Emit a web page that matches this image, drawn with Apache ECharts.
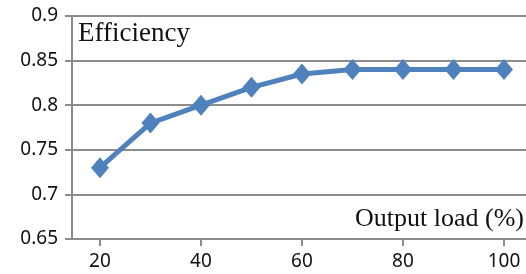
<!DOCTYPE html>
<html>
<head>
<meta charset="utf-8">
<script src="https://cdn.jsdelivr.net/npm/echarts@6/dist/echarts.min.js"></script>
<style>
  html, body { margin: 0; padding: 0; background: #fff; }
  #chart { width: 526px; height: 274px; }
</style>
</head>
<body>
<div id="chart"></div>
<script>
// output load (%) and measured efficiency
var loads = [20, 30, 40, 50, 60, 70, 80, 90, 100];
var efficiency = [0.73, 0.78, 0.80, 0.82, 0.835, 0.84, 0.84, 0.84, 0.84];
var xTicks = [20, 40, 60, 80, 100];

var chart = echarts.init(document.getElementById("chart"));

var gridColor = "#8c8c8c";
var labelFont = "'Noto Sans', 'Liberation Sans', sans-serif";
var serifFont = "'Liberation Serif', 'DejaVu Serif', serif";

var option = {
  animation: false,
  grid: { left: 72, right: 0, top: 16, bottom: 35 },
  xAxis: {
    type: "value",
    min: 14.46,
    max: 104.36,
    axisLine: { show: true, lineStyle: { color: gridColor, width: 2 } },
    axisTick: {
      show: true,
      customValues: xTicks,
      length: 7,
      lineStyle: { color: gridColor, width: 2 }
    },
    axisLabel: {
      customValues: xTicks,
      margin: 13,
      color: "#111",
      fontSize: 19,
      fontFamily: labelFont
    },
    splitLine: { show: false }
  },
  yAxis: {
    type: "value",
    min: 0.65,
    max: 0.9,
    interval: 0.05,
    axisLine: { show: true, lineStyle: { color: gridColor, width: 2 } },
    axisTick: { show: true, length: 7, lineStyle: { color: gridColor, width: 2 } },
    axisLabel: {
      margin: 14,
      color: "#111",
      fontSize: 19,
      fontFamily: labelFont,
      formatter: function (v) {
        return String(parseFloat(v.toFixed(2)));
      }
    },
    splitLine: { show: true, lineStyle: { color: gridColor, width: 2 } }
  },
  graphic: [
    {
      type: "text",
      left: 78,
      top: 20,
      style: {
        text: "Efficiency",
        font: "27px " + serifFont,
        fill: "#111"
      }
    },
    {
      type: "text",
      right: 2,
      top: 206,
      style: {
        text: "Output load (%)",
        font: "26px " + serifFont,
        fill: "#111"
      }
    }
  ],
  series: [
    {
      type: "line",
      data: loads.map(function (x, i) { return [x, efficiency[i]]; }),
      symbol: "diamond",
      symbolSize: [18, 21],
      lineStyle: { color: "#4f81bd", width: 5 },
      itemStyle: { color: "#4f81bd" }
    }
  ]
};

chart.setOption(option);
</script>
</body>
</html>
